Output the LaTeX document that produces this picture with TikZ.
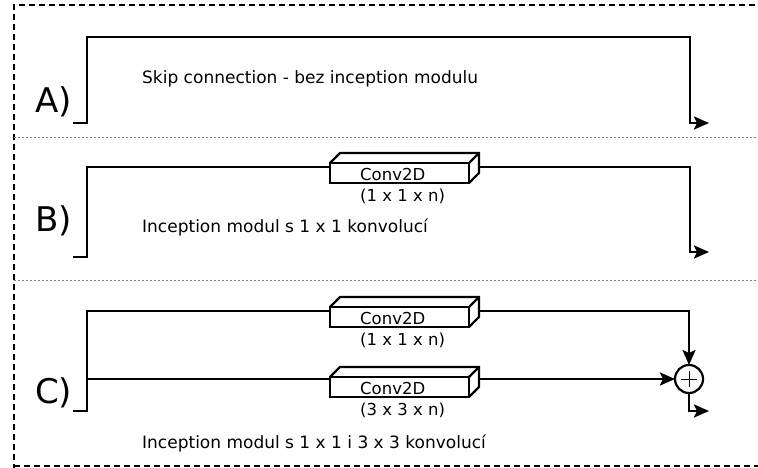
\documentclass[tikz,border=0pt]{standalone}
\usepackage{fontspec}
\setmainfont{DejaVu Sans}
\usetikzlibrary{arrows.meta}
\begin{document}
\begin{tikzpicture}[x=1pt,y=-1pt,
  wire/.style={line width=2.4pt},
  flow/.style={wire,-{Stealth[length=15pt,width=13pt,inset=3pt]}},
  txt/.style={font=\fontsize{17}{20}\selectfont, inner sep=0pt, anchor=base west},
  convtxt/.style={font=\fontsize{16.5}{19}\selectfont, inner sep=0pt, anchor=base west},
  tag/.style={font=\fontsize{34}{38}\selectfont, inner sep=0pt, anchor=base west},
  convface/.style={draw, line width=2.2pt, fill=white, minimum width=139pt,
    minimum height=20pt, inner sep=0pt, outer sep=0pt},
  depth/.style={line width=2.2pt, line join=miter},
  sumnode/.style={draw, circle, line width=2.2pt, minimum size=28pt,
    inner sep=0pt, outer sep=0pt, fill=white},
  frame/.style={line width=1.4pt, dash pattern=on 6pt off 4pt},
  divider/.style={line width=0.8pt, gray, dash pattern=on 2pt off 2pt}]

\useasboundingbox (0,0) rectangle (758,468);

% outer frame and section dividers
\draw[frame] (14,470) -- (14,5) -- (770,5);
\draw[frame] (14,466) -- (770,466);
\draw[divider] (14,137) -- (758,137);
\draw[divider] (14,280) -- (758,280);

% ---------- A) plain skip connection ----------
\coordinate (Ain) at (73,123);
\coordinate (Aup) at (87,37);
\coordinate (Aturn) at (690,37);
\coordinate (Aout) at (709,123);
\node[tag] (Atag) at (35,113) {A)};
\node[txt] (Atxt) at (142,84) {Skip connection - bez inception modulu};
\draw[flow] (Ain) -| (Aup) -- (Aturn) |- (Aout);

% ---------- B) 1x1 convolution ----------
\coordinate (Bin) at (73,257);
\coordinate (Btop) at (87,167);
\coordinate (Bturn) at (690,167);
\coordinate (Bout) at (709,252);
\node[tag] (Btag) at (35,231) {B)};
\node[txt] (Btxt) at (142,233) {Inception modul s 1 x 1 konvolucí};
\node[convface] (b1) at (399.5,173) {};
\draw[depth] (b1.north west) -- ++(10,-10) -- ++(139,0) -- ++(0,20) -- (b1.south east);
\draw[depth] (b1.north east) -- ++(10,-10);
\node[convtxt] (b1a) at (360,180) {Conv2D};
\node[convtxt] (b1b) at (360,201) {(1 x 1 x n)};
\draw[wire] (Bin) -| (Btop) -- (Btop -| b1.west);
\draw[flow] ([xshift=10pt]b1.east |- Btop) -- (Bturn) |- (Bout);

% ---------- C) 1x1 and 3x3 convolutions, summed ----------
\coordinate (Cin) at (73,411);
\coordinate (Ctop) at (87,311);
\coordinate (Cmid) at (87,379);
\coordinate (Cout) at (709,411);
\node[tag] (Ctag) at (35,403) {C)};
\node[txt] (Ctxt) at (142,448) {Inception modul s 1 x 1 i 3 x 3 konvolucí};

\node[convface] (c1) at (399.5,317) {};
\draw[depth] (c1.north west) -- ++(10,-10) -- ++(139,0) -- ++(0,20) -- (c1.south east);
\draw[depth] (c1.north east) -- ++(10,-10);
\node[convtxt] (c1a) at (360,324) {Conv2D};
\node[convtxt] (c1b) at (360,345) {(1 x 1 x n)};

\node[convface] (c2) at (399.5,387) {};
\draw[depth] (c2.north west) -- ++(10,-10) -- ++(139,0) -- ++(0,20) -- (c2.south east);
\draw[depth] (c2.north east) -- ++(10,-10);
\node[convtxt] (c2a) at (360,394) {Conv2D};
\node[convtxt] (c2b) at (360,415) {(3 x 3 x n)};

\node[sumnode] (sum) at (689,379) {};
\draw[line width=1pt] ([yshift=8pt]sum.center) -- ([yshift=-8pt]sum.center)
  ([xshift=-8pt]sum.center) -- ([xshift=8pt]sum.center);

\draw[wire] (Cin) -| (Ctop) -- (Ctop -| c1.west);
\draw[wire] (Cmid) -- (Cmid -| c2.west);
\draw[flow] ([xshift=10pt]c1.east |- Ctop) -| (sum.north);
\draw[flow] ([xshift=10pt]c2.east |- Cmid) -- (sum.west);
\draw[flow] (sum.south) |- (Cout);

\end{tikzpicture}
\end{document}
